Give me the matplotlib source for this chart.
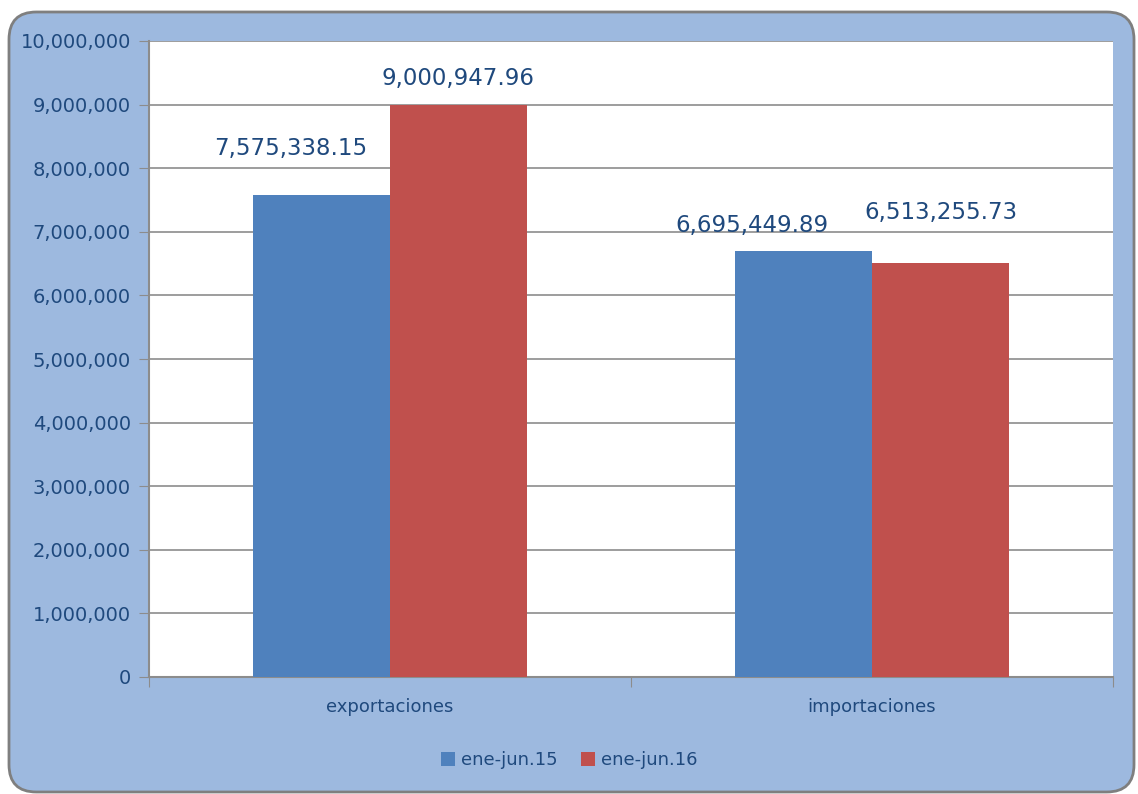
import matplotlib.pyplot as plt
from matplotlib.patches import FancyBboxPatch
import numpy as np

categorias = ['exportaciones', 'importaciones']
series = ['ene-jun.15', 'ene-jun.16']
valores_15 = [7575338.15, 6695449.89]
valores_16 = [9000947.96, 6513255.73]

azul = '#4F81BD'
rojo = '#C0504D'
texto = '#1F497D'
fondo = '#9DB9DF'

plt.rcParams['font.family'] = ['DejaVu Sans']

fig = plt.figure(figsize=(11.38, 7.94), dpi=100)
fig.patch.set_facecolor('white')

# marco redondeado de fondo
marco = FancyBboxPatch((9 / 1138, 2 / 794), 1125 / 1138, 780 / 794,
                       boxstyle='round,pad=0,rounding_size=0.024',
                       transform=fig.transFigure, facecolor=fondo,
                       edgecolor='#7F7F7F', linewidth=2, mutation_aspect=1138 / 794,
                       zorder=-10)
fig.patches.append(marco)

ax = fig.add_axes([149 / 1138, 1 - 677 / 794, 964 / 1138, 636 / 794])
ax.set_facecolor('white')

x = np.array([0.25, 0.75])
ancho = 0.142
b1 = ax.bar(x - ancho / 2, valores_15, ancho, color=azul, label=series[0], zorder=3)
b2 = ax.bar(x + ancho / 2, valores_16, ancho, color=rojo, label=series[1], zorder=3)

# desplazamiento de las etiquetas (pixeles), como en el original
desp_15 = [(-31, 47), (-52, 26)]
desp_16 = [(0, 26), (0, 50)]
for barras, vals, desp in [(b1, valores_15, desp_15), (b2, valores_16, desp_16)]:
    for b, v, d in zip(barras, vals, desp):
        ax.annotate(f'{v:,.2f}', (b.get_x() + b.get_width() / 2, v),
                    xytext=d, textcoords='offset pixels',
                    ha='center', va='center', fontsize=16.5, color=texto)

ax.set_xlim(0, 1)
ax.set_ylim(0, 10000000)
ax.set_yticks(np.arange(0, 10000001, 1000000))
ax.yaxis.set_major_formatter(plt.FuncFormatter(lambda v, p: f'{v:,.0f}'))
ax.grid(axis='y', color='#8C8C8C', linewidth=1.2, zorder=0)

ax.set_xticks([0, 0.5, 1])
ax.set_xticklabels([])
ax.set_xticks(x, minor=True)
ax.set_xticklabels(categorias, minor=True)
ax.tick_params(axis='x', which='major', length=7, color='#8C8C8C', direction='out')
ax.tick_params(axis='x', which='minor', length=0, pad=15, labelsize=13, labelcolor=texto)
ax.tick_params(axis='y', length=7, color='#8C8C8C', labelsize=14, labelcolor=texto, pad=6)

for s in ['top', 'right']:
    ax.spines[s].set_visible(False)
for s in ['left', 'bottom']:
    ax.spines[s].set_color('#8C8C8C')
    ax.spines[s].set_linewidth(1.5)

leg = fig.legend(handles=[b1, b2], labels=series, loc='center', bbox_to_anchor=(0.5, 1 - 760 / 794),
                 ncol=2, frameon=False, fontsize=13, handlelength=0.8, handleheight=0.8,
                 handletextpad=0.3, columnspacing=1.3)
for t in leg.get_texts():
    t.set_color(texto)

fig.savefig('out.png', dpi=100)
